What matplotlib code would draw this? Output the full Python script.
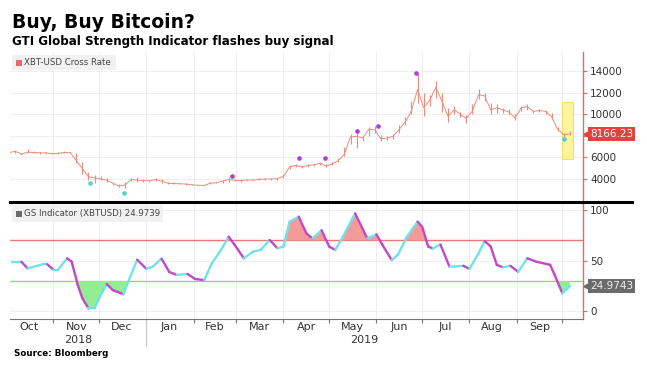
import numpy as np
import pandas as pd
import matplotlib
matplotlib.use("Agg")
import matplotlib.pyplot as plt
import matplotlib.dates as mdates
import matplotlib.transforms as mtransforms
from matplotlib.collections import LineCollection
from matplotlib.patches import Rectangle
from matplotlib.lines import Line2D

# XBT-USD price, sampled every 4 days (close / high / low of each period)
price_dates = pd.date_range("2018-10-03", periods=93, freq="4D")
price_close = [6450, 6550, 6300, 6480, 6450, 6420, 6420, 6350, 6380, 6450, 6450, 5700, 4950,
               4210, 4100, 4000, 3900, 3600, 3350, 3450, 3950, 3900, 3850, 3850, 3950, 3800,
               3600, 3580, 3560, 3530, 3450, 3420, 3400, 3620, 3650, 3800, 3950, 3880, 3850,
               3900, 3900, 3950, 4000, 4000, 4030, 4250, 5100, 5250, 5100, 5250, 5300, 5450,
               5200, 5400, 5700, 6300, 7900, 7950, 7800, 8600, 8550, 7700, 7800, 7950, 8600,
               9300, 10300, 12300, 10600, 11300, 12500, 11200, 9800, 10400, 10000, 9600, 10300,
               11800, 11700, 10400, 10600, 10400, 10200, 9650, 10600, 10700, 10250, 10350,
               10250, 9750, 8600, 8100, 8166.23]
price_high = [6600, 6650, 6450, 6750, 6550, 6500, 6480, 6420, 6500, 6550, 6520, 6450, 5600,
              4600, 4400, 4300, 4100, 3750, 3500, 3700, 4100, 4200, 4000, 3950, 4100, 4000,
              3700, 3680, 3620, 3600, 3520, 3480, 3480, 3700, 3700, 3950, 4150, 3950, 3900,
              3950, 3950, 4050, 4080, 4050, 4100, 4500, 5300, 5400, 5250, 5350, 5400, 5600,
              5400, 5600, 5900, 7000, 8200, 8250, 8000, 8800, 8900, 8100, 8000, 8200, 9000,
              9700, 11200, 13800, 12000, 11800, 13100, 12000, 10600, 10800, 10200, 9900, 10900,
              12300, 12000, 11000, 10900, 10600, 10450, 10000, 10800, 10900, 10400, 10450,
              10400, 10100, 8800, 8300, 8450]
price_low = [6350, 6450, 6200, 6400, 6380, 6350, 6350, 6300, 6320, 6380, 6380, 5500, 4500,
             3900, 3600, 3900, 3700, 3400, 3250, 3200, 3800, 3700, 3750, 3700, 3800, 3650,
             3550, 3500, 3500, 3450, 3400, 3380, 3350, 3550, 3600, 3650, 3750, 3800, 3750,
             3850, 3850, 3900, 3950, 3950, 3950, 4050, 4900, 5100, 5000, 5150, 5200, 5300,
             5150, 5300, 5600, 6100, 7200, 6900, 7500, 8000, 8300, 7500, 7600, 7700, 8300,
             9000, 10000, 11000, 9800, 10800, 11500, 10200, 9300, 10000, 9700, 9200, 10000,
             11400, 11200, 10000, 10100, 10100, 10000, 9500, 10300, 10400, 10100, 10200,
             10050, 9600, 8400, 7900, 8050]

# GTI signals
sell_dates = ["2019-02-26", "2019-04-11", "2019-04-28", "2019-05-19", "2019-06-02", "2019-06-27"]
sell_values = [4300, 5970, 5970, 8440, 8930, 13790]
buy_dates = ["2018-11-25", "2018-12-17", "2019-10-02"]
buy_values = [3600, 2700, 7700]

# GS indicator
gs_dates = ["2018-10-05", "2018-10-11", "2018-10-15", "2018-10-19", "2018-10-25", "2018-10-28",
            "2018-11-01", "2018-11-04", "2018-11-10", "2018-11-13", "2018-11-17", "2018-11-20",
            "2018-11-24", "2018-11-28", "2018-12-02", "2018-12-06", "2018-12-10", "2018-12-17",
            "2018-12-20", "2018-12-26", "2019-01-01", "2019-01-05", "2019-01-11", "2019-01-16",
            "2019-01-21", "2019-01-28", "2019-02-02", "2019-02-08", "2019-02-13", "2019-02-19",
            "2019-02-24", "2019-02-28", "2019-03-06", "2019-03-12", "2019-03-17", "2019-03-23",
            "2019-03-28", "2019-04-01", "2019-04-05", "2019-04-11", "2019-04-16", "2019-04-20",
            "2019-04-26", "2019-05-01", "2019-05-05", "2019-05-10", "2019-05-18", "2019-05-26",
            "2019-06-01", "2019-06-05", "2019-06-11", "2019-06-15", "2019-06-21", "2019-06-28",
            "2019-07-01", "2019-07-05", "2019-07-08", "2019-07-13", "2019-07-19", "2019-07-28",
            "2019-08-01", "2019-08-07", "2019-08-11", "2019-08-15", "2019-08-19", "2019-08-23",
            "2019-08-28", "2019-09-02", "2019-09-08", "2019-09-14", "2019-09-23", "2019-09-26",
            "2019-10-01", "2019-10-06"]
gs_values = [49, 49, 42.5, 44, 46.5, 46.5, 41, 41, 52.4, 49, 26, 13, 3, 3, 16, 27, 21, 17,
             29, 51, 42, 44, 52, 39, 36, 37, 32, 31, 47.5, 60.6, 73.7, 65.5, 52.4, 59, 60.6,
             70.4, 62.3, 64, 88.5, 93.4, 77, 72, 80, 64, 60.6, 73.7, 96.7, 72, 76, 65.5, 50.7,
             55.7, 73.7, 88.5, 83.5, 64, 62, 66, 44, 45, 42, 57, 69.5, 64, 46, 43.5, 45, 39,
             52.4, 49, 46, 36, 18, 24.9743]

month_labels = ["Oct", "Nov", "Dec", "Jan", "Feb", "Mar", "Apr", "May", "Jun", "Jul", "Aug", "Sep"]
month_mids = ["2018-10-16", "2018-11-16", "2018-12-16", "2019-01-16", "2019-02-15", "2019-03-16",
              "2019-04-16", "2019-05-16", "2019-06-16", "2019-07-16", "2019-08-16", "2019-09-16"]

W, H = 647, 374
PRICE_COL = "#ec8c7c"
AX_RED = "#e46a6a"
TXT = "#333333"


def box(l, t, r, b):
    return [l / W, 1 - b / H, (r - l) / W, (b - t) / H]


fig = plt.figure(figsize=(W / 100, H / 100), dpi=100)
ax1 = fig.add_axes(box(10, 52, 583, 201))
ax2 = fig.add_axes(box(10, 203, 583, 319), sharex=ax1)

x0 = pd.Timestamp("2018-10-03 12:00")
x1 = pd.Timestamp("2019-10-14 14:00")
ax1.set_xlim(x0, x1)

for ax in (ax1, ax2):
    for s in ("left", "top", "bottom"):
        ax.spines[s].set_visible(False)
    ax.spines["right"].set_color(AX_RED)
    ax.spines["right"].set_linewidth(1)
    ax.yaxis.tick_right()
    ax.tick_params(axis="y", colors=AX_RED, labelcolor=TXT, length=3, width=0.8, labelsize=7.5, pad=2)
    ax.xaxis.set_major_locator(mdates.MonthLocator())
    ax.grid(True, color="#ececec", lw=0.6)
    ax.set_axisbelow(True)

# ---- top panel: price
ax1.set_ylim(1960, 15760)
ax1.set_yticks([4000, 6000, 8000, 10000, 12000, 14000])
ax1.set_yticklabels(["4000", "6000", "", "10000", "12000", "14000"])

hl_start = mdates.date2num(pd.Timestamp("2019-10-01"))
ax1.add_patch(Rectangle((hl_start, 5850), 7, 5300, fc="#fff59a", ec="#ece070", lw=0.8, zorder=1))

ax1.vlines(price_dates, price_low, price_high, color=PRICE_COL, lw=0.8, zorder=2)
ax1.plot(price_dates, price_close, color=PRICE_COL, lw=0.7, zorder=2)
ax1.scatter(pd.to_datetime(sell_dates), sell_values, s=11, color="#b43ad6", zorder=3, lw=0)
ax1.scatter(pd.to_datetime(buy_dates), buy_values, s=11, color="#4fd3d3", zorder=3, lw=0)

tr1 = mtransforms.blended_transform_factory(ax1.transAxes, ax1.transData)
ax1.plot([1.006], [price_close[-1]], marker="<", ms=5, color="#e0453c", transform=tr1, clip_on=False)
ax1.text(1.012, price_close[-1], f"{price_close[-1]:.2f}", transform=tr1, ha="left", va="center",
         fontsize=7.5, color="white",
         bbox=dict(boxstyle="square,pad=0.18", fc="#e0453c", ec="none"))

# ---- bottom panel: GS indicator
gx = mdates.date2num(pd.to_datetime(gs_dates))
gy = np.array(gs_values)
ax2.set_ylim(-7.4, 106.9)
ax2.set_yticks([0, 50, 100])
ax2.axhline(70, color="#e87a7a", lw=1, zorder=1)
ax2.axhline(30, color="#8ad88a", lw=1, zorder=1)
ax2.fill_between(gx, gy, 70, where=gy >= 70, interpolate=True, color="#f59a9a", lw=0, zorder=1.5)
ax2.fill_between(gx, gy, 30, where=gy <= 30, interpolate=True, color="#93ee93", lw=0, zorder=1.5)

pts = np.column_stack([gx, gy])
segs = np.stack([pts[:-1], pts[1:]], axis=1)
cols = ["#6fe3e8" if gy[i + 1] >= gy[i] else "#c447c8" for i in range(len(gy) - 1)]
ax2.add_collection(LineCollection(segs, colors=cols, linewidths=1.7, capstyle="round", zorder=3))

tr2 = mtransforms.blended_transform_factory(ax2.transAxes, ax2.transData)
ax2.plot([1.006], [gs_values[-1]], marker="<", ms=5, color="#6b6b6b", transform=tr2, clip_on=False)
ax2.text(1.012, gs_values[-1], f"{gs_values[-1]:.4f}", transform=tr2, ha="left", va="center",
         fontsize=7.5, color="#eeeeee",
         bbox=dict(boxstyle="square,pad=0.18", fc="#6b6b6b", ec="none"))

ax2.spines["bottom"].set_visible(True)
ax2.spines["bottom"].set_color("#777777")
ax2.set_xticks(mdates.date2num(pd.to_datetime(month_mids)), minor=True)
ax2.set_xticklabels(month_labels, minor=True)
ax2.tick_params(axis="x", which="major", length=3, color="#777777", labelbottom=False)
ax2.tick_params(axis="x", which="minor", length=0, labelsize=8, labelcolor=TXT, pad=2)
ax1.tick_params(axis="x", which="both", length=0, labelbottom=False)

trx = mtransforms.blended_transform_factory(ax2.transData, ax2.transAxes)
jan1 = mdates.date2num(pd.Timestamp("2019-01-01"))
ax2.plot([jan1, jan1], [0, -0.23], transform=trx, color="#c8c8c8", lw=0.8, clip_on=False)
lo, hi = ax2.get_xlim()
ax2.text((lo + jan1) / 2, -0.185, "2018", transform=trx, ha="center", va="center", fontsize=8, color=TXT)
ax2.text((jan1 + hi) / 2, -0.185, "2019", transform=trx, ha="center", va="center", fontsize=8, color=TXT)

# ---- separator, legends, titles
fig.add_artist(Line2D([10 / W, 632 / W], [1 - 202 / H] * 2, color="black", lw=2.2))


def legend_box(l, t, r, b, sq_col, label):
    fig.add_artist(Rectangle((l / W, 1 - b / H), (r - l) / W, (b - t) / H,
                             transform=fig.transFigure, fc="#f1f1f1", ec="none", zorder=5))
    fig.add_artist(Rectangle(((l + 4) / W, 1 - ((t + b) / 2 + 3) / H), 6 / W, 6 / H,
                             transform=fig.transFigure, fc=sq_col, ec="none", zorder=6))
    fig.text((l + 12) / W, 1 - (t + b) / 2 / H, label, fontsize=6.2, color="#444444",
             va="center", ha="left", zorder=7)


legend_box(12, 55, 116, 70, "#e36b6b", "XBT-USD Cross Rate")
legend_box(12, 205, 163, 222, "#6b6b6b", "GS Indicator (XBTUSD) 24.9739")

fig.text(12 / W, 1 - 22 / H, "Buy, Buy Bitcoin?", fontsize=13.5, weight="bold", va="center", color="black")
fig.text(12 / W, 1 - 41 / H, "GTI Global Strength Indicator flashes buy signal", fontsize=8.6,
         weight="bold", va="center", color="black")
fig.text(14 / W, 1 - 353 / H, "Source: Bloomberg", fontsize=6.3, weight="bold", va="center", color="black")

fig.savefig("out.png", dpi=100)
